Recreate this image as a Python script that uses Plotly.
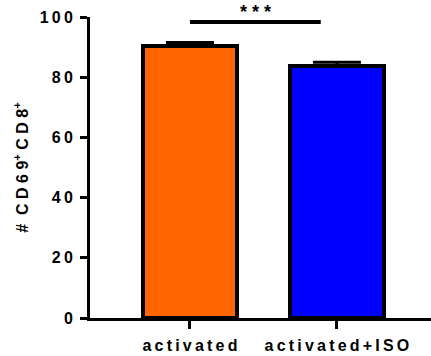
import plotly.graph_objects as go

# Group data
categories = ["activated", "activated+ISO"]
means = [90.4, 83.6]
sem = [1.1, 1.4]
bar_colors = ["#FF6600", "#0000FF"]
y_ticks = [0, 20, 40, 60, 80, 100]
sig_label = "***"
sig_bracket_y = 98.3

THIN = "\u2009"


def spaced(s, sep=THIN):
    return sep.join(s)


font_family = "Arial, Liberation Sans, sans-serif"
x_pos = list(range(len(categories)))

fig = go.Figure()
fig.add_trace(go.Bar(
    x=x_pos,
    y=means,
    width=0.64,
    marker=dict(color=bar_colors, line=dict(color="black", width=4)),
    error_y=dict(type="data", symmetric=False, array=sem,
                 arrayminus=[0] * len(sem), color="black",
                 thickness=3, width=24),
))

# significance bracket between the two groups
fig.add_shape(type="line", xref="x", yref="y",
              x0=x_pos[0], x1=x_pos[0] + 0.89,
              y0=sig_bracket_y, y1=sig_bracket_y,
              line=dict(color="black", width=4))
fig.add_annotation(x=x_pos[0] + 0.445, y=sig_bracket_y, xref="x", yref="y",
                   text=spaced(sig_label, " "), showarrow=False,
                   yanchor="bottom", yshift=-2,
                   font=dict(size=18, color="black", family=font_family,
                             weight="bold"))

fig.update_layout(
    width=431, height=356,
    margin=dict(l=90, r=0, t=17, b=38),
    plot_bgcolor="white", paper_bgcolor="white",
    showlegend=False,
    font=dict(family=font_family, size=16, color="black", weight="bold"),
    bargap=0,
)
fig.update_xaxes(
    range=[-0.68, 1.64],
    tickvals=x_pos,
    ticktext=[spaced(c) for c in categories],
    showline=True, linecolor="black", linewidth=3,
    ticks="outside", ticklen=8, tickwidth=3, tickcolor="black",
    ticklabelstandoff=3,
    showgrid=False, zeroline=False,
    tickfont=dict(size=16, weight="bold"),
)
fig.update_yaxes(
    range=[0, 100],
    tickvals=y_ticks,
    ticktext=[spaced(str(v)) for v in y_ticks],
    showline=True, linecolor="black", linewidth=3,
    ticks="outside", ticklen=7, tickwidth=3, tickcolor="black",
    ticklabelstandoff=4,
    showgrid=False, zeroline=False,
    tickfont=dict(size=16, weight="bold"),
    title=dict(text="#\u00a0\u00a0C\u00a0D\u00a06\u00a09<sup>+</sup>\u00a0C\u00a0D\u00a08<sup>+</sup>",
               font=dict(size=16, weight="bold"), standoff=8),
)

fig.write_html("out.html")
